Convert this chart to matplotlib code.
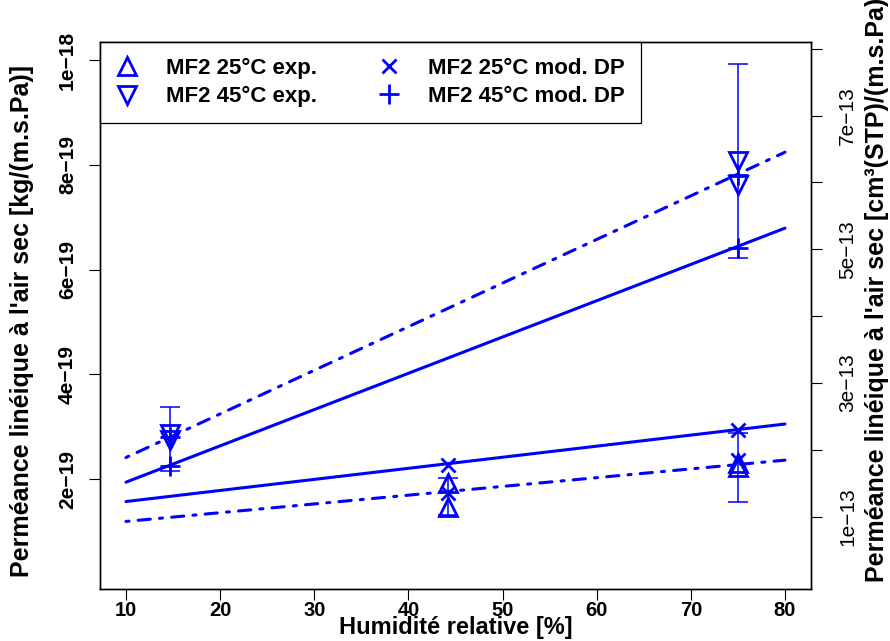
import numpy as np
import matplotlib
matplotlib.use("Agg")
import matplotlib.pyplot as plt
from matplotlib.lines import Line2D

plt.rcParams['font.family'] = ['Liberation Sans', 'DejaVu Sans']

# relative humidity range of the fitted lines
hr_lines = [10, 80]
line_45_dp = [1.94e-19, 6.79e-19]     # solid, steep
line_25_dp = [1.57e-19, 3.05e-19]     # solid, shallow
line_45_dd = [2.41e-19, 8.24e-19]     # dot-dash, steep
line_25_dd = [1.19e-19, 2.36e-19]     # dot-dash, shallow

# experimental points
hr_25_exp = [44.2, 44.2, 75, 75]
perm_25_exp = [1.93e-19, 1.47e-19, 2.30e-19, 2.22e-19]
hr_45_exp = [14.7, 14.7, 75, 75]
perm_45_exp = [2.86e-19, 2.74e-19, 8.07e-19, 7.61e-19]

# error bars
err_hr = [14.7, 44.2, 75, 75]
err_low = [2.16e-19, 1.31e-19, 1.57e-19, 6.22e-19]
err_high = [3.37e-19, 2.02e-19, 2.88e-19, 9.92e-19]

# model points
hr_25_mod = [44.2, 75, 44.2, 75]
perm_25_mod = [2.27e-19, 2.93e-19, 1.73e-19, 2.36e-19]
hr_45_mod = [14.7, 75, 14.7, 75]
perm_45_mod = [2.25e-19, 6.41e-19, 2.80e-19, 7.80e-19]

left_ticks = [2e-19, 4e-19, 6e-19, 8e-19, 1e-18]
left_labels = ["2e\u221219", "4e\u221219", "6e\u221219", "8e\u221219", "1e\u221218"]
right_ticks = [1e-13, 2e-13, 3e-13, 4e-13, 5e-13, 6e-13, 7e-13, 8e-13]
right_labels = ["1e\u221213", "", "3e\u221213", "", "5e\u221213", "", "7e\u221213", ""]
kg_to_cm3 = 7.83e5

blue = '#0000ff'
W, H = 890, 641
fig = plt.figure(figsize=(W / 100, H / 100), dpi=100)
ax = fig.add_axes([100 / W, (H - 589) / H, 711 / W, 547 / H])

lw = 2.2
ax.plot(hr_lines, line_45_dp, color=blue, lw=lw, solid_capstyle='round')
ax.plot(hr_lines, line_25_dp, color=blue, lw=lw, solid_capstyle='round')
ax.plot(hr_lines, line_45_dd, color=blue, lw=lw, ls=(0, (1, 3, 4, 3)), dash_capstyle='round')
ax.plot(hr_lines, line_25_dd, color=blue, lw=lw, ls=(0, (1, 3, 4, 3)), dash_capstyle='round')

lo = np.array(err_low)
hi = np.array(err_high)
mid = (lo + hi) / 2
ax.errorbar(err_hr, mid, yerr=[mid - lo, hi - mid], fmt='none',
            ecolor=blue, elinewidth=1.1, capsize=7, capthick=1.1)

mk = dict(ls='none', color=blue, mfc='none', mew=2)
ax.plot(hr_25_exp, perm_25_exp, marker='^', ms=13, **mk)
ax.plot(hr_45_exp, perm_45_exp, marker='v', ms=13, **mk)
ax.plot(hr_25_mod, perm_25_mod, marker='x', ms=10, **mk)
ax.plot(hr_45_mod, perm_45_mod, marker='+', ms=14, **mk)

ax.set_xlim(7.24, 82.76)
ylo, yhi = -0.1e-19, 10.344e-19
ax.set_ylim(ylo, yhi)
ax.set_xticks(range(10, 81, 10))
ax.set_yticks(left_ticks)
ax.set_yticklabels(left_labels, rotation=90, va='center')
for t in ax.get_xticklabels() + ax.get_yticklabels():
    t.set_fontweight('bold')
ax.tick_params(axis='x', direction='out', length=8, width=0.8, labelsize=14.5, pad=1)
ax.tick_params(axis='y', direction='out', length=8, width=0.8, labelsize=15, pad=8.5)
for s in ax.spines.values():
    s.set_linewidth(1.0)

ax2 = ax.twinx()
ax2.set_ylim(ylo * kg_to_cm3, yhi * kg_to_cm3)
ax2.set_yticks(right_ticks)
ax2.set_yticklabels(right_labels, rotation=90, va='center')
ax2.tick_params(axis='y', direction='out', length=8, width=0.8, labelsize=15, pad=11.5)
for s in ax2.spines.values():
    s.set_linewidth(1.0)

handles = [
    Line2D([], [], marker='^', ms=13, **mk),
    Line2D([], [], marker='v', ms=13, **mk),
    Line2D([], [], marker='x', ms=9.5, **mk),
    Line2D([], [], marker='+', ms=14, **mk),
]
labels = ["MF2 25°C exp.", "MF2 45°C exp.", "MF2 25°C mod. DP", "MF2 45°C mod. DP"]
leg = ax.legend(handles, labels, ncol=2, loc='upper left', bbox_to_anchor=(0, 1),
                borderaxespad=0, fancybox=False, edgecolor='black', framealpha=1,
                prop={'weight': 'bold', 'size': 16}, handlelength=1.0, borderpad=0.72,
                handletextpad=1.25, columnspacing=2.75, labelspacing=0.32)
leg.get_frame().set_linewidth(0.9)

fig.text(22 / W, 1 - 577 / H, "Perméance linéique à l'air sec [kg/(m.s.Pa)]",
         rotation=90, ha='center', va='bottom', fontsize=18, fontweight='bold')
fig.text(877 / W, 1 - 582 / H, "Perméance linéique à l'air sec [cm³(STP)/(m.s.Pa)]",
         rotation=90, ha='center', va='bottom', fontsize=18, fontweight='bold')
fig.text(455.5 / W, 1 - 634 / H, "Humidité relative [%]",
         ha='center', va='baseline', fontsize=17, fontweight='bold')

fig.savefig("out.png", dpi=100)
